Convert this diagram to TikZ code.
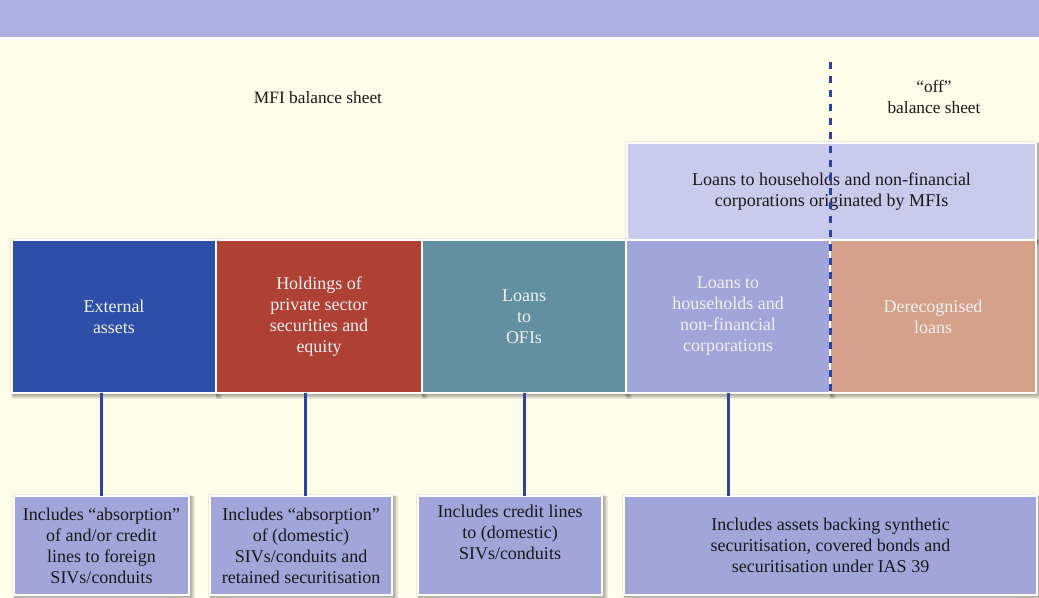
\documentclass[tikz,border=0pt]{standalone}
\usepackage{fontspec}
\setmainfont{Liberation Serif}
\usetikzlibrary{backgrounds}
\definecolor{cream}{HTML}{FEFDE9}
\definecolor{banner}{HTML}{ADB1E0}
\definecolor{extblue}{HTML}{2D4FA8}
\definecolor{holdred}{HTML}{AE4034}
\definecolor{ofiteal}{HTML}{6290A0}
\definecolor{hhlav}{HTML}{A2A5D9}
\definecolor{dersalmon}{HTML}{D5A18A}
\definecolor{toplav}{HTML}{CACBEC}
\definecolor{linkblue}{HTML}{2A44A0}
\newcommand\softshade[1]{%
  \foreach \k in {1,...,6}{%
    \fill[black,opacity=0.07]
      ([shift={(-1.5pt+0.3*\k pt,1.5pt-0.3*\k pt)}]#1.north west) rectangle
      ([shift={(0.8*\k pt,-0.8*\k pt)}]#1.south east);
  }}
\tikzset{
  mainbox/.style={draw=white,line width=0.8pt,inner sep=0pt,outer sep=0pt,
    minimum width=153pt,minimum height=114.75pt,text=white!94!black,align=center,
    font=\fontsize{13.5}{15.75}\selectfont},
  incbox/.style={draw=white,line width=0.8pt,fill=hhlav,inner sep=0pt,outer sep=0pt,
    minimum height=74.25pt,text=black!90,align=center,
    font=\fontsize{13.5}{15.75}\selectfont},
  label/.style={text=black!90,align=center,font=\fontsize{13}{16}\selectfont},
  link/.style={draw=linkblue,line width=2.25pt},
  boundary/.style={draw=linkblue,line width=2.25pt,dash pattern=on 5pt off 5.5pt}
}
\begin{document}
\begin{tikzpicture}[x=0.75pt,y=-0.75pt]
\begin{scope}[on background layer]
\fill[cream] (0,0) rectangle (1039,597);
\fill[banner] (0,0) rectangle (1039,37);
\fill[white] (0,37) rectangle (1039,40);
\end{scope}
\useasboundingbox (0,0) rectangle (1039,597);

\node[label] (mfi) at (318,98) {MFI balance sheet};
\node[label] (off) at (934,97) {“off”\\balance sheet};

\node[draw=white,line width=0.8pt,fill=toplav,inner sep=0pt,outer sep=0pt,
  minimum width=306.75pt,minimum height=72.75pt,text=black!90,align=center,
  font=\fontsize{13.5}{15.75}\selectfont] (orig) at (831.5,191.5)
  {Loans to households and non-financial\\corporations originated by MFIs};

\node[mainbox,fill=extblue] (ext) at (114,316.5) {External\\assets};
\node[mainbox,fill=holdred,minimum width=154.5pt] (hold) at (319,316.5)
  {Holdings of\\private sector\\securities and\\equity};
\node[mainbox,fill=ofiteal] (ofi) at (524,316.5) {Loans\\to\\OFIs};
\node[mainbox,fill=hhlav] (hh) at (728,316.5)
  {Loans to\\households and\\non-financial\\corporations};
\node[mainbox,fill=dersalmon,minimum width=154.5pt] (der) at (933,316.5)
  {Derecognised\\loans};

\node[incbox,minimum width=131.25pt] (inc1) at (101.5,545.5)
  {Includes “absorption”\\of and/or credit\\lines to foreign\\SIVs/conduits};
\node[incbox,minimum width=136.5pt] (inc2) at (301,545.5)
  {Includes “absorption”\\of (domestic)\\SIVs/conduits and\\retained securitisation};
\node[incbox,minimum width=138pt] (inc3) at (510,545.5)
  {Includes credit lines\\to (domestic)\\SIVs/conduits\\\strut};
\node[incbox,minimum width=309.75pt] (inc4) at (830.5,545.5)
  {Includes assets backing synthetic\\securitisation, covered bonds and\\securitisation under IAS 39};

\begin{scope}[on background layer]
\foreach \n in {orig,ext,hold,ofi,hh,der,inc1,inc2,inc3,inc4}{\softshade{\n}}
\end{scope}

\draw[link] (inc1.north |- ext.south) -- (inc1.north);
\draw[link] ([xshift=3pt]inc2.north |- hold.south) -- ([xshift=3pt]inc2.north);
\draw[link] (ofi.south) -- (ofi.south |- inc3.north);
\draw[link] (hh.south) -- (hh.south |- inc4.north);

\coordinate (dtop) at (830,62);
\draw[boundary] (dtop) -- (der.south west);
\end{tikzpicture}
\end{document}
